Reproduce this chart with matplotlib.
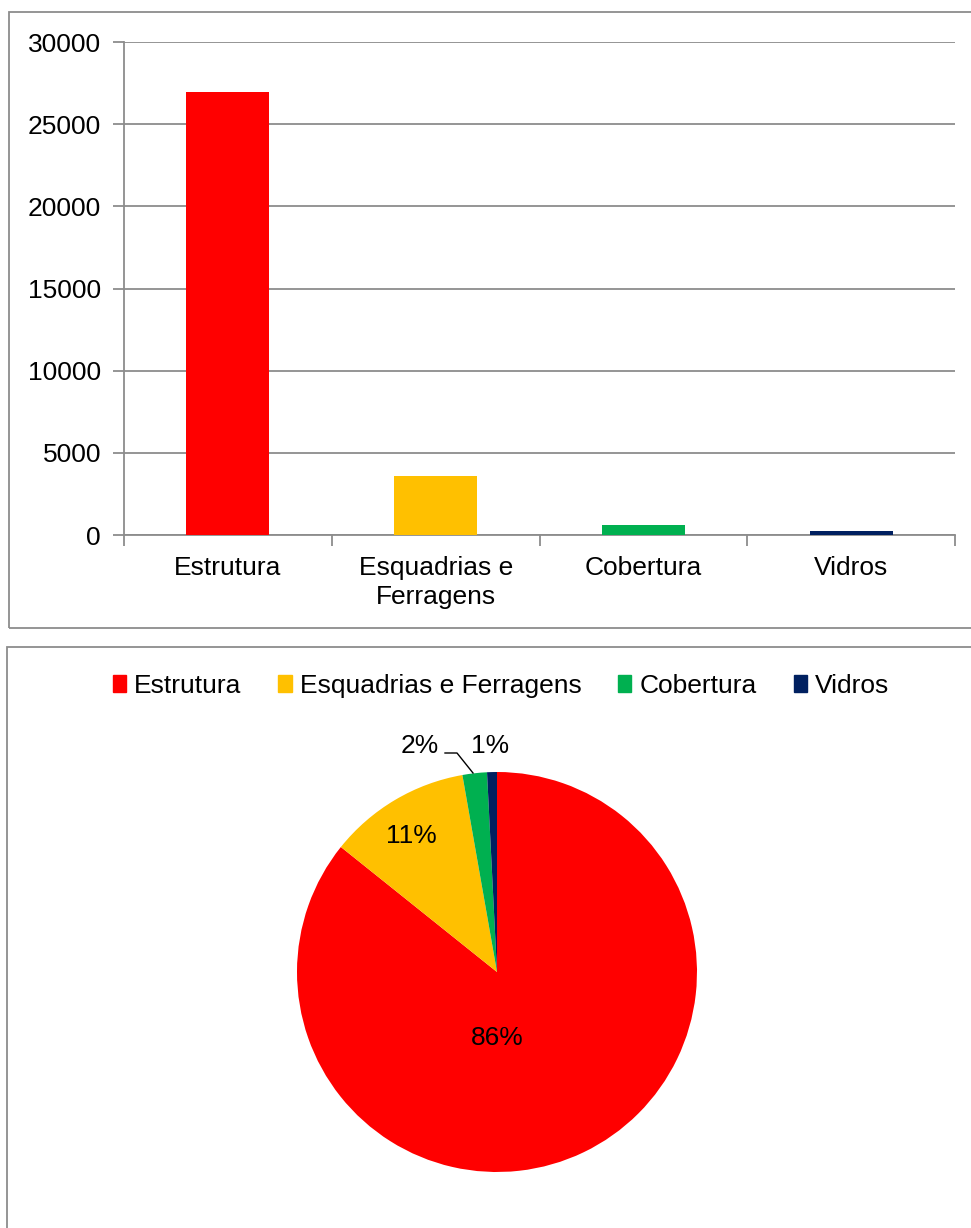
import matplotlib
matplotlib.use("Agg")
import matplotlib.pyplot as plt
from matplotlib.patches import Rectangle
from matplotlib.lines import Line2D

plt.rcParams['font.family'] = ['Liberation Sans', 'DejaVu Sans']

# Data
categories = ["Estrutura", "Esquadrias e\nFerragens", "Cobertura", "Vidros"]
legend_names = ["Estrutura", "Esquadrias e Ferragens", "Cobertura", "Vidros"]
values = [26950, 3610, 620, 250]
colors = ["#FF0000", "#FFC000", "#00B050", "#002060"]
y_ticks = [0, 5000, 10000, 15000, 20000, 25000, 30000]

W, H = 971, 1228
fig = plt.figure(figsize=(W / 100, H / 100), dpi=100)
fig.patch.set_facecolor("white")

GRAY = "#8C8C8C"
FS = 19


def fx(px):
    return px / W


def fy(py):
    return 1 - py / H


# Panel frames
fig.add_artist(Rectangle((fx(9), fy(628)), fx(990) - fx(9), fy(12) - fy(628),
                         transform=fig.transFigure, fill=False,
                         edgecolor=GRAY, lw=1.3, clip_on=False))
fig.add_artist(Rectangle((fx(7), fy(1260)), fx(990) - fx(7), fy(647) - fy(1260),
                         transform=fig.transFigure, fill=False,
                         edgecolor=GRAY, lw=1.3, clip_on=False))

# ---- Bar chart ----
ax = fig.add_axes([fx(124), fy(535), fx(955) - fx(124), fy(42) - fy(535)])
x = list(range(len(categories)))
ax.bar(x, values, width=0.4, color=colors, zorder=3)
ax.set_xlim(-0.5, len(categories) - 0.5)
ax.set_ylim(0, 30000)
ax.set_yticks(y_ticks)
ax.set_yticklabels([str(v) for v in y_ticks], fontsize=FS)
ax.yaxis.grid(True, color=GRAY, lw=1.3, zorder=0)
ax.set_axisbelow(True)

ax.set_xticks([i - 0.5 for i in range(len(categories) + 1)])
ax.set_xticklabels([])
ax.set_xticks(x, minor=True)
ax.set_xticklabels(categories, minor=True, fontsize=FS, linespacing=1.25)
ax.tick_params(axis='x', which='minor', length=0, pad=15)
ax.tick_params(axis='x', which='major', length=8, width=1.3, color=GRAY, direction='out')
ax.tick_params(axis='y', length=8, width=1.3, color=GRAY, direction='out', pad=8.5)

for s in ["top", "right"]:
    ax.spines[s].set_visible(False)
for s in ["left", "bottom"]:
    ax.spines[s].set_color(GRAY)
    ax.spines[s].set_linewidth(1.3)

# ---- Pie chart ----
cx, cy, r = 497, 972, 200
pax = fig.add_axes([fx(cx - r), fy(cy + r), fx(2 * r), fy(cy - r) - fy(cy + r)])
total = sum(values)
wedges, _ = pax.pie(values, colors=colors, startangle=90, counterclock=False,
                    radius=1, wedgeprops=dict(linewidth=0))
pax.set_xlim(-1, 1)
pax.set_ylim(-1, 1)
pax.set_aspect("auto")
pax.axis("off")

label_pos = [(0.0, -0.33), (-0.43, 0.68), (-0.385, 1.13), (-0.035, 1.13)]
for v, (lx, ly) in zip(values, label_pos):
    pax.text(lx, ly, f"{round(100 * v / total):.0f}%", ha="center", va="center",
             fontsize=FS, clip_on=False)

# Leader line for the small slice label
pax.add_line(Line2D([-0.26, -0.2, -0.12], [1.095, 1.095, 0.995],
                    color="black", lw=1.0, clip_on=False))

# Legend
handles = [Rectangle((0, 0), 1, 1, color=c) for c in colors]
fig.legend(handles, legend_names, loc="center", bbox_to_anchor=(fx(501), fy(686)),
           ncol=4, frameon=False, fontsize=FS, handlelength=0.5, handleheight=0.6,
           handletextpad=0.3, columnspacing=1.4, borderpad=0)

fig.savefig("out.png", dpi=100)
